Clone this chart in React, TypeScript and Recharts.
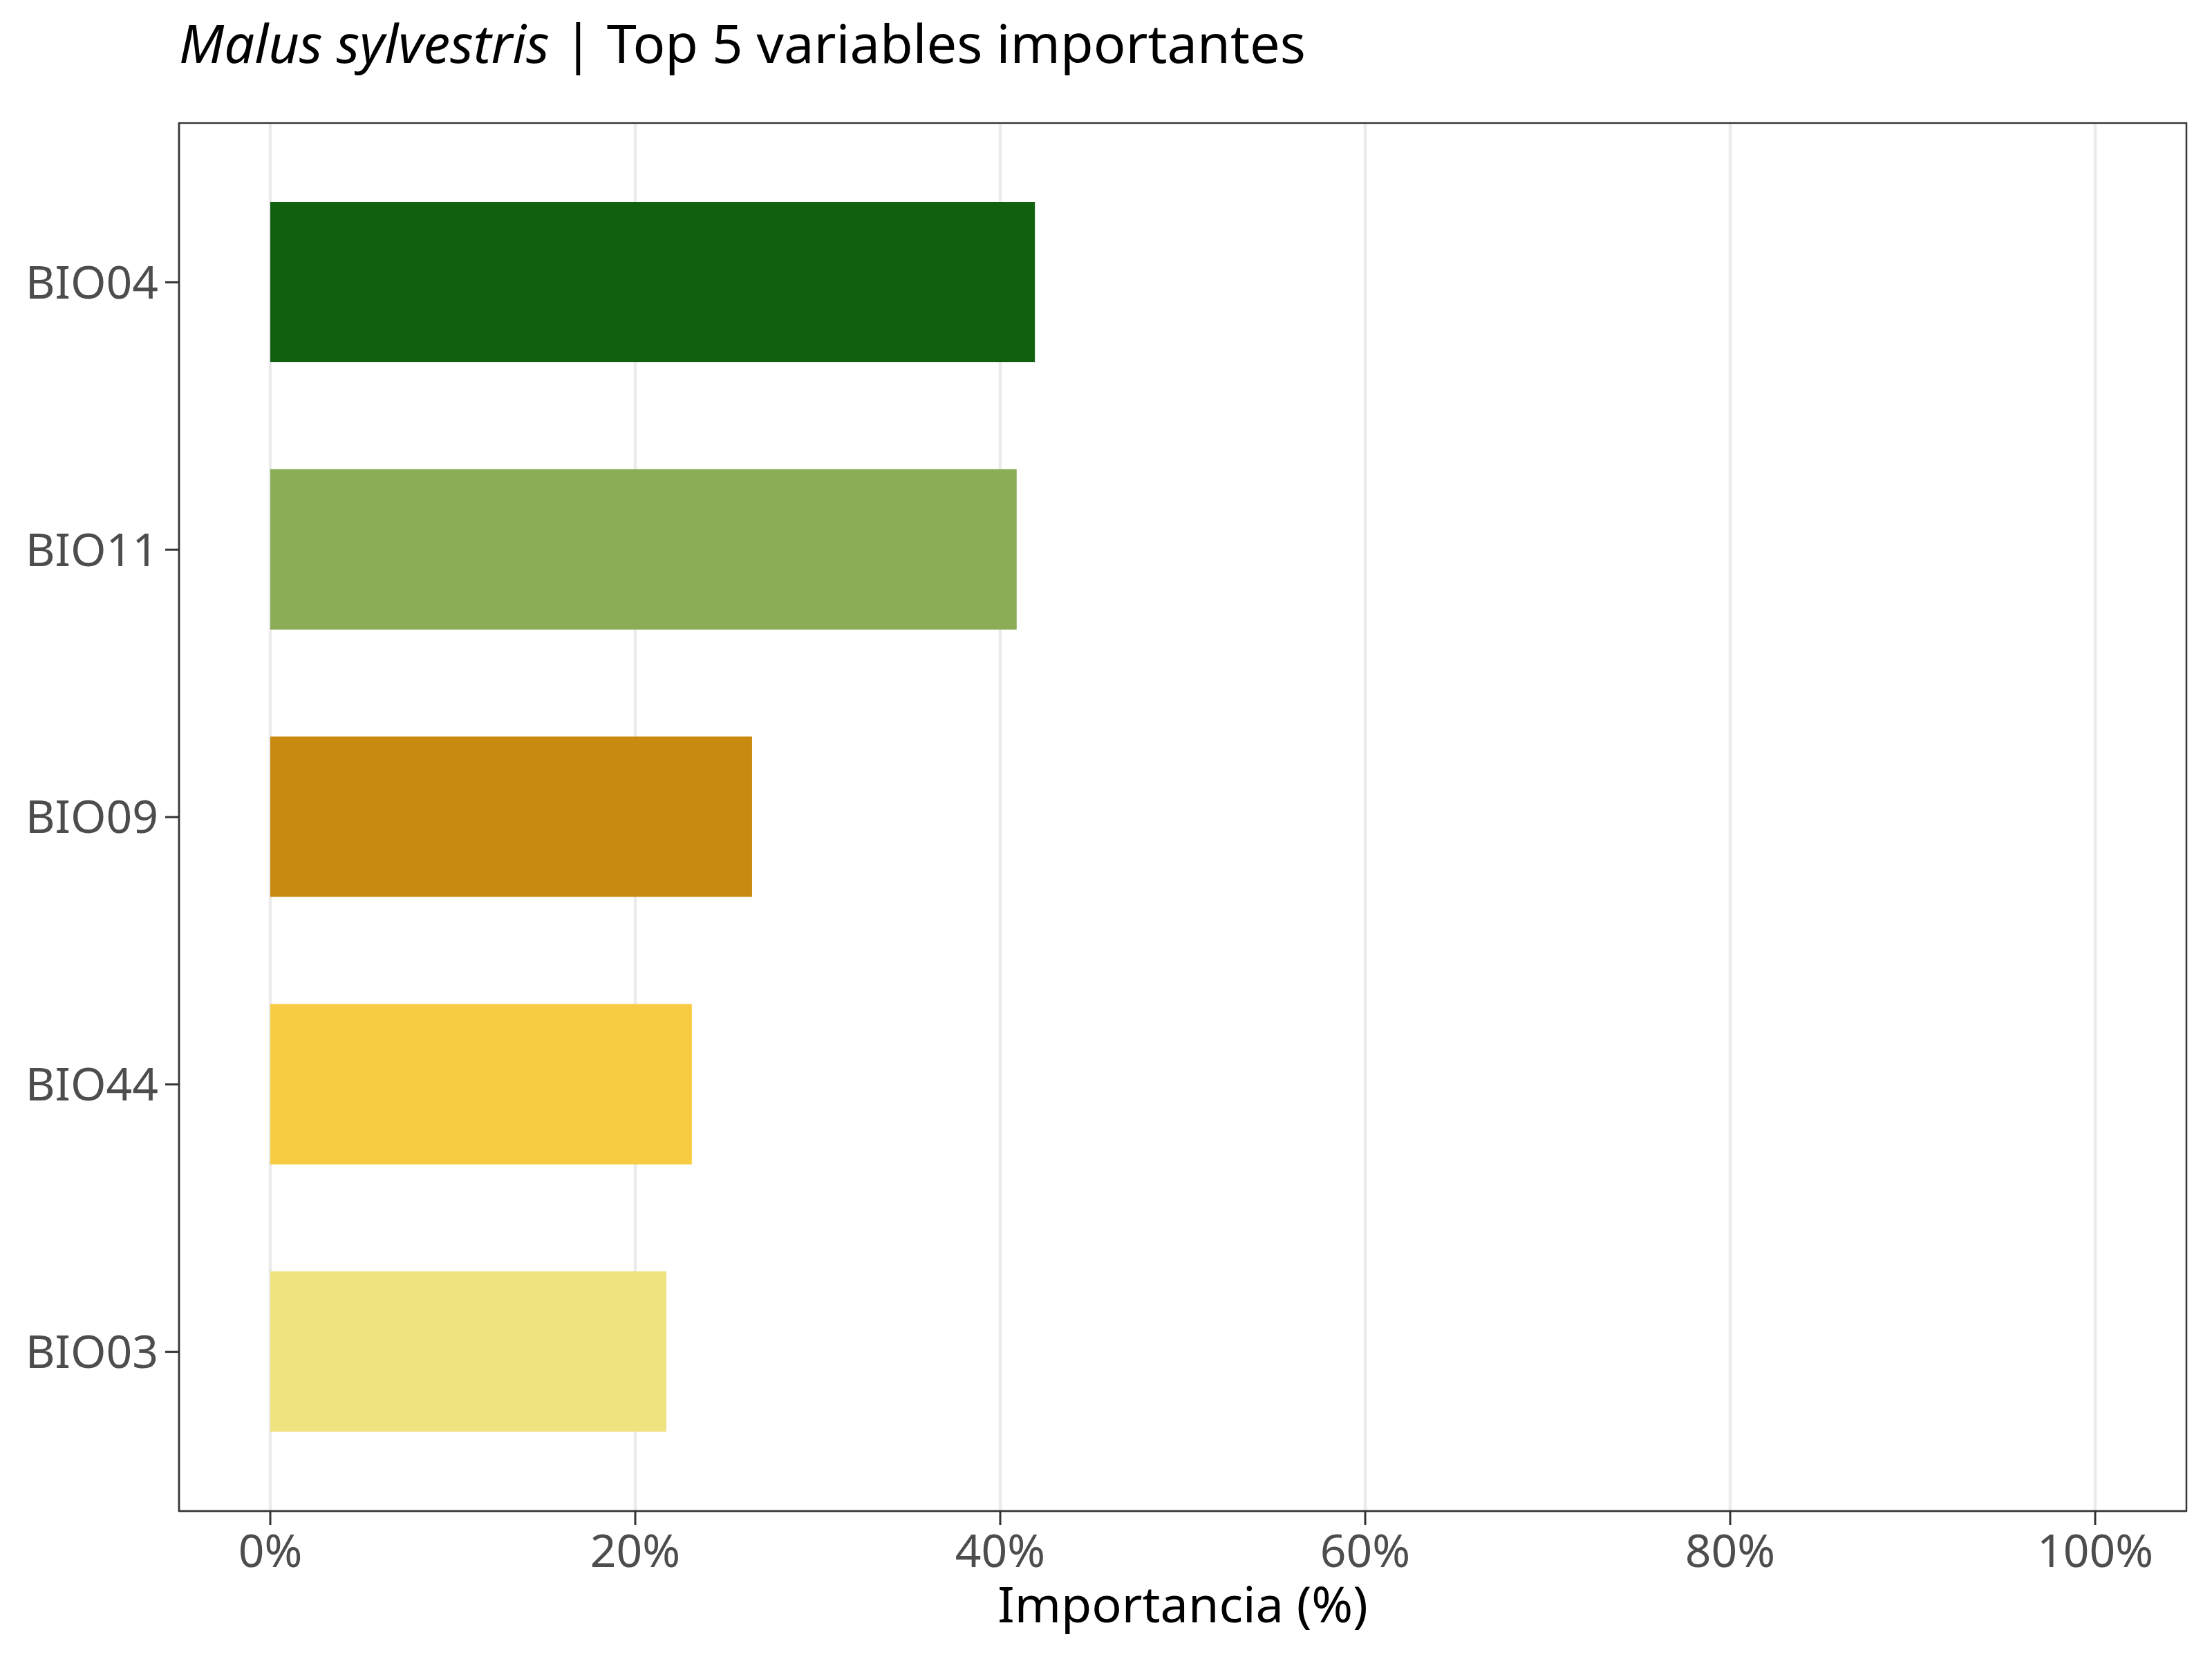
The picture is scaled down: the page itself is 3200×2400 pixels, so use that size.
import React from "react";
import * as Recharts from "recharts";
import { BarChart, Bar, Cell, XAxis, YAxis, CartesianGrid } from "recharts";

const variables = ["BIO04", "BIO11", "BIO09", "BIO44", "BIO03"];
const importance = [41.9, 40.9, 26.4, 23.1, 21.7];
const barColors = ["#11600f", "#8aad55", "#c98b0f", "#f7cc43", "#eee37f"];
const xTicks = [0, 20, 40, 60, 80, 100];
const xDomain = [-5, 105];

const data = variables.map((v, i) => ({ variable: v, value: importance[i] }));

const FONT = '"Noto Sans", "Open Sans", sans-serif';
const AXIS = "#333333";

const usePlotArea: () => any = (Recharts as any).usePlotArea ?? (() => null);

// theme_bw style panel border around the plotting area
function PanelBorder() {
  const area = usePlotArea();
  if (!area) return null;
  return (
    <rect x={area.x} y={area.y} width={area.width} height={area.height} fill="none" stroke={AXIS} strokeWidth={2.3} />
  );
}

export default function App() {
  return (
    <div style={{ position: "absolute", left: 0, top: 0, width: 3200, height: 2400, background: "#fff", fontFamily: FONT }}>
      <div
        style={{
          position: "absolute",
          left: 259,
          top: 22,
          fontSize: 77.5,
          lineHeight: "78px",
          color: "#000",
          whiteSpace: "nowrap",
        }}
      >
        <span style={{ fontStyle: "italic" }}>Malus sylvestris</span> | Top 5 variables importantes
      </div>
      <BarChart
        width={3200}
        height={2400}
        data={data}
        layout="vertical"
        margin={{ top: 178, right: 37, bottom: 0, left: 0 }}
        style={{ fontFamily: FONT }}
      >
        <CartesianGrid horizontal={false} stroke="#ebebeb" strokeWidth={4.5} />
        <XAxis
          type="number"
          domain={xDomain}
          ticks={xTicks}
          tickFormatter={(v) => `${v}%`}
          height={214}
          tickSize={20}
          tickMargin={14}
          tick={{ fill: "#4d4d4d", fontSize: 66, fontFamily: FONT }}
          tickLine={{ stroke: AXIS, strokeWidth: 3 }}
          axisLine={{ stroke: AXIS, strokeWidth: 2.3 }}
          label={{ value: "Importancia (%)", position: "insideBottom", offset: 53, fill: "#000", fontSize: 72, fontFamily: FONT }}
        />
        <YAxis
          type="category"
          dataKey="variable"
          width={259}
          padding={{ top: 37, bottom: 37 }}
          tickSize={20}
          tickMargin={10}
          tick={{ fill: "#4d4d4d", fontSize: 66, fontFamily: FONT }}
          tickLine={{ stroke: AXIS, strokeWidth: 3 }}
          axisLine={{ stroke: AXIS, strokeWidth: 2.3 }}
        />
        <Bar dataKey="value" barSize={232} isAnimationActive={false}>
          {data.map((d, i) => (
            <Cell key={d.variable} fill={barColors[i]} />
          ))}
        </Bar>
        <PanelBorder />
      </BarChart>
    </div>
  );
}
